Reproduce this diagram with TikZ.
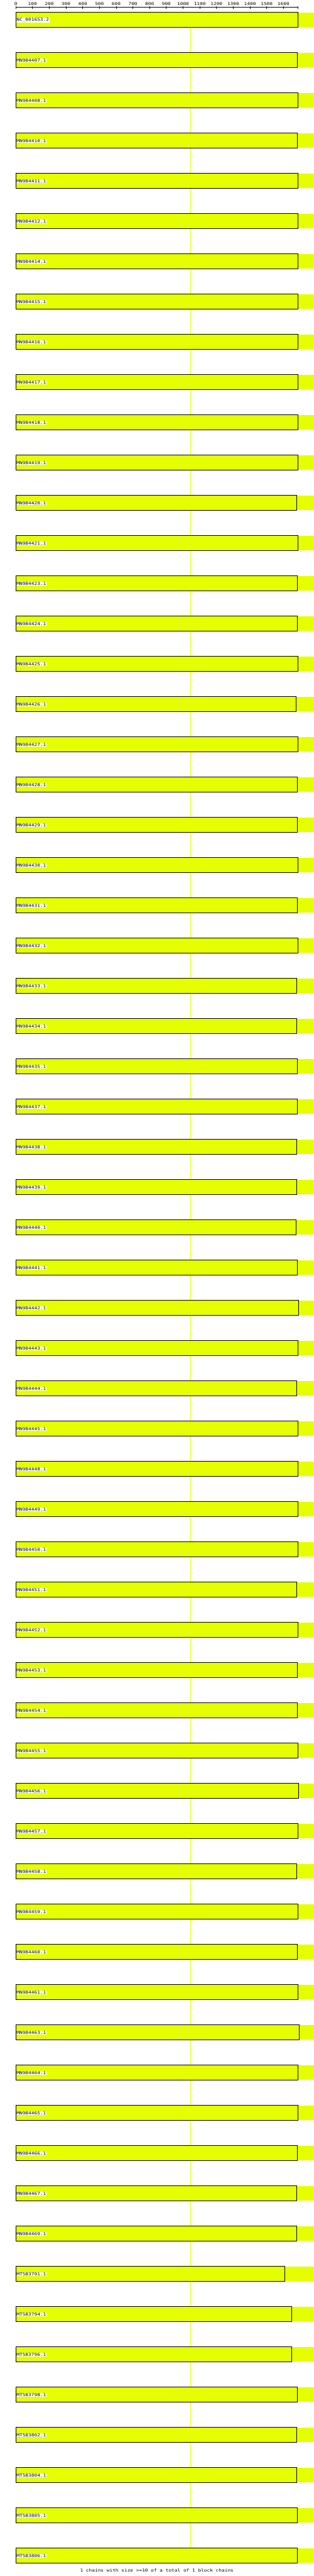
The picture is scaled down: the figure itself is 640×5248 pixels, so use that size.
\documentclass[tikz,border=0pt]{standalone}
\usepackage{fontspec}
\usepackage{graphicx}
\newfontfamily\monof{DejaVu Sans Mono}
\definecolor{yel}{RGB}{229,255,0}
\tikzset{
  rowbox/.style={draw=black, line width=1pt, fill=yel, inner sep=0pt, outer sep=0pt, minimum height=31pt, anchor=north west},
  rowlab/.style={fill=white, inner sep=0.6pt, anchor=west, font=\monof\fontsize{10}{10}\selectfont},
  rulelab/.style={inner sep=0pt, font=\monof\fontsize{10}{10}\selectfont},
  axisline/.style={line width=1pt, black},
  vline/.style={line width=1pt, yel}
}
\newcommand{\sq}[1]{\scalebox{1}[0.82]{#1}}
\begin{document}
\begin{tikzpicture}[x=1pt,y=-1pt]
\useasboundingbox[fill=white] (0,0) rectangle (640,5248);
% vertical marker line behind the rows
\coordinate (vtop) at (389,56);
\coordinate (vbot) at (389,5191);
\draw[vline] (vtop) -- (vbot);
% ruler
\coordinate (r0) at (32.2,15);
\coordinate (rend) at (608.2,15);
\draw[axisline] (r0) -- (rend);
\foreach \k in {0,...,16}{
  \pgfmathsetmacro\tx{32.2+34.13*\k}
  \pgfmathtruncatemacro\val{100*\k}
  \coordinate (ta\k) at (\tx,12.3);
  \coordinate (tb\k) at (\tx,18.5);
  \draw[axisline] (ta\k) -- (tb\k);
  \node[rulelab] (rl\k) at (\tx,7.7) {\sq{\val}};
}
\coordinate (tae) at (608.2,12.3);
\coordinate (tbe) at (608.2,18.5);
\draw[axisline] (tae) -- (tbe);
% rows
\foreach \nm/\p [count=\i from 0] in {
NC\_001653.2/1490, MN984407.1/1486, MN984408.1/1490, MN984410.1/1486, MN984411.1/1490,
MN984412.1/1488, MN984414.1/1488, MN984415.1/1490, MN984416.1/1488, MN984417.1/1488,
MN984418.1/1488, MN984419.1/1490, MN984420.1/1483, MN984421.1/1490, MN984423.1/1486,
MN984424.1/1486, MN984425.1/1488, MN984426.1/1480, MN984427.1/1488, MN984428.1/1486,
MN984429.1/1486, MN984430.1/1488, MN984431.1/1486, MN984432.1/1488, MN984433.1/1483,
MN984434.1/1483, MN984435.1/1486, MN984437.1/1486, MN984438.1/1483, MN984439.1/1483,
MN984440.1/1480, MN984441.1/1486, MN984442.1/1492, MN984443.1/1488, MN984444.1/1483,
MN984445.1/1490, MN984448.1/1490, MN984449.1/1488, MN984450.1/1488, MN984451.1/1483,
MN984452.1/1488, MN984453.1/1486, MN984454.1/1486, MN984455.1/1488, MN984456.1/1492,
MN984457.1/1490, MN984458.1/1483, MN984459.1/1488, MN984460.1/1486, MN984461.1/1488,
MN984463.1/1495, MN984464.1/1490, MN984465.1/1490, MN984466.1/1486, MN984467.1/1483,
MN984469.1/1483, MT583791.1/1422, MT583794.1/1457, MT583796.1/1457, MT583798.1/1486,
MT583802.1/1483, MT583804.1/1483, MT583805.1/1486, MT583806.1/1486}{
  \pgfmathsetmacro\t{25+82*\i}
  \pgfmathsetmacro\r{\p/2.45}
  \pgfmathsetmacro\w{\r-32.2}
  \pgfmathsetmacro\ta{\t+1}
  \pgfmathsetmacro\tb{\t+30.3}
  \pgfmathsetmacro\tl{\t+16}
  \fill[yel] (\r,\ta) rectangle (640,\tb);
  \node[rowbox, minimum width=\w pt] (box\i) at (32.2,\t) {};
  \node[rowlab] (lab\i) at (33,\tl) {\sq{\nm}};
}
\node[rulelab] (summary) at (320,5236.5) {\sq{1 chains with size >=10 of a total of 1 block chains}};
\end{tikzpicture}
\end{document}
